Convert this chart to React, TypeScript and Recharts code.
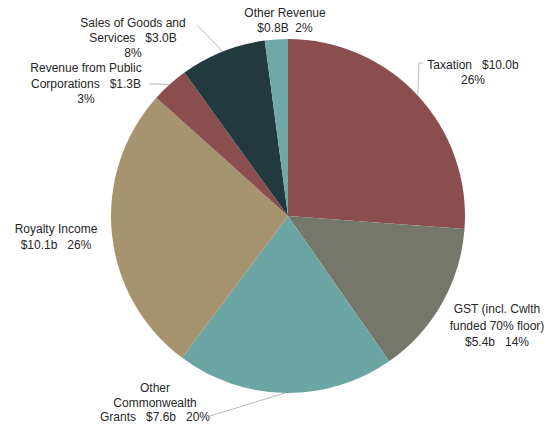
import React from "react";
import { PieChart, Pie, Cell } from "recharts";

// revenue sources, $ billions
const categories = [
	"Taxation",
	"GST (incl. Cwlth funded 70% floor)",
	"Other Commonwealth Grants",
	"Royalty Income",
	"Revenue from Public Corporations",
	"Sales of Goods and Services",
	"Other Revenue",
];
const values = [10.0, 5.4, 7.6, 10.1, 1.3, 3.0, 0.8];
const labelTexts = [
	["Taxation   $10.0b", "26%"],
	["GST (incl. Cwlth", "funded 70% floor)", "$5.4b   14%"],
	["Other", "Commonwealth", "Grants   $7.6b   20%"],
	["Royalty Income", "$10.1b   26%"],
	["Revenue from Public", "Corporations   $1.3B", "3%"],
	["Sales of Goods and", "Services   $3.0B", "8%"],
	["Other Revenue", "$0.8B  2%"],
];

const colors = ["#8b4e4e", "#75776b", "#6ba6a4", "#a6936f", "#8b4e4e", "#22393f", "#70a8a8"];

// label placement relative to pie centre, plus optional leader-line end
const labelLayout: { dx: number; dy: number; lh: number; leader?: number[][] }[] = [
	{ dx: 185, dy: -151, lh: 15, leader: [[131, -153], [135, -153]] },
	{ dx: 209, dy: 93, lh: 16.5 },
	{ dx: -133, dy: 172, lh: 14.5, leader: [[-78, 200]] },
	{ dx: -232, dy: 13, lh: 15.5 },
	{ dx: -202, dy: -148, lh: 15.5, leader: [[-139, -132]] },
	{ dx: -155, dy: -193, lh: 15, leader: [[-91, -191]] },
	{ dx: -3, dy: -203, lh: 15 },
];

const data = categories.map((name, i) => ({ name, value: values[i] }));

const RAD = Math.PI / 180;

const renderLabel = (props: any) => {
	const { cx, cy, midAngle, outerRadius, index } = props;
	const lay = labelLayout[index];
	const ex = cx + outerRadius * Math.cos(-midAngle * RAD);
	const ey = cy + outerRadius * Math.sin(-midAngle * RAD);
	const tx = cx + lay.dx;
	const ty = cy + lay.dy;
	let pts = "";
	if (lay.leader) {
		pts = [[ex, ey], ...lay.leader.map(([x, y]) => [cx + x, cy + y])]
			.map((p) => p.join(","))
			.join(" ");
	}
	return (
		<g key={`lbl-${index}`}>
			{lay.leader && <polyline points={pts} fill="none" stroke="#b8b8b8" strokeWidth={1} />}
			<text
				x={tx}
				y={ty}
				textAnchor="middle"
				fill="#262626"
				fontSize={12}
				fontFamily="'Liberation Sans', Arial, sans-serif"
				style={{ whiteSpace: "pre" }}
			>
				{labelTexts[index].map((line, j) => (
					<tspan key={j} x={tx} y={ty + j * lay.lh} dominantBaseline="central">
						{line}
					</tspan>
				))}
			</text>
		</g>
	);
};

export default function App() {
	return (
		<div style={{ position: "absolute", left: 0, top: 0, background: "#fff" }}>
			<PieChart width={554} height={424} margin={{ top: 0, right: 0, bottom: 0, left: 0 }}>
				<Pie
					data={data}
					dataKey="value"
					nameKey="name"
					cx={288}
					cy={216}
					outerRadius={177}
					startAngle={90}
					endAngle={-270}
					stroke="none"
					label={renderLabel}
					labelLine={false}
					isAnimationActive={false}
				>
					{data.map((d, i) => (
						<Cell key={d.name} fill={colors[i]} />
					))}
				</Pie>
			</PieChart>
		</div>
	);
}
